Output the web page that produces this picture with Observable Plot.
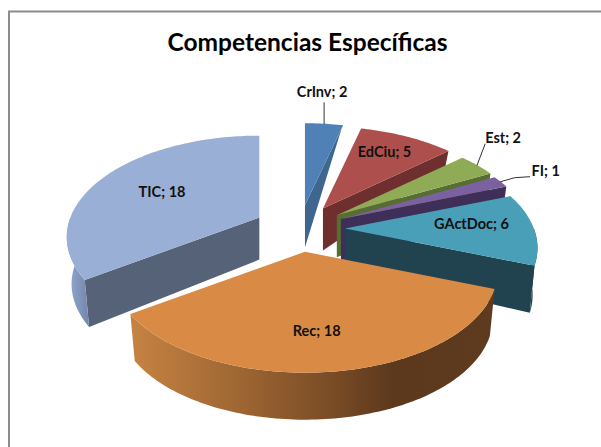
<!DOCTYPE html>
<html>
<head>
<meta charset="utf-8">
<style>html,body{margin:0;padding:0;background:#fff}svg{display:block}</style>
<script src="https://cdn.jsdelivr.net/npm/d3@7"></script>
<script src="https://cdn.jsdelivr.net/npm/@observablehq/plot@0.6"></script>
</head>
<body>
<div id="chart"></div>
<script>
// Data
const categories = ["CrInv", "EdCiu", "Est", "FI", "GActDoc", "Rec", "TIC"];
const values = [2, 5, 2, 1, 6, 18, 18];
const titleText = "Competencias Específicas";

// Styles per slice
const topColors  = ["#4f81b6", "#ad504d", "#90ab56", "#7c61a0", "#4a9fb8", "#d98a45", "#9aafd5"];
const wallColors = ["#3f668f", "#6e2f2e", "#566e31", "#3f2e58", "#21434f", "#6b4221", "#566278"];
const labelInside = [false, true, false, false, true, true, true];
const labelRadius = [0, 0.74, 0, 0, 0.67, 0.71, 0.6];
const labelNudge = [null, [-3, -1], null, null, [0, -4], [-7, 0], [-2, 1]];
const calloutLeader = [[[0, -21]], null, [[8, -21]], [[14, -4], [29, -5]], null, null, null];
const calloutLabel = [[-2, -31], null, [26, -27], [45, -10], null, null, null];

// Perspective pie geometry (screen units of the identity x/y scales)
const W = 601, H = 447;
const cx = 299, cy = 228, A = 189, B = 97.7, K = 0.192, EXPLODE = 0.24;
const apexDepth = 42, rimDepth = 47, converge = 0.025;

const arcs = d3.pie().sort(null).value(d => d)(values);
const mid = a => (a.startAngle + a.endAngle) / 2;
const apexOf = a => [cx + A * EXPLODE * Math.sin(mid(a)), cy - B * EXPLODE * Math.cos(mid(a))];
function rim(apex, t, r = 1) {
  const u = r * Math.sin(t), v = r * Math.cos(t), w = 1 + K * v;
  return [apex[0] + A * u / w, apex[1] - B * v / w];
}
function drop(apex, p, t) {
  const d = rimDepth * Math.min(1, 1 - Math.cos(t));
  return [p[0] - (p[0] - apex[0]) * converge, p[1] + d];
}
function arcPts(apex, t0, t1) {
  const n = Math.max(2, Math.ceil(Math.abs(t1 - t0) / 0.02));
  return d3.range(n + 1).map(i => {
    const t = t0 + (t1 - t0) * i / n;
    return { t, p: rim(apex, t) };
  });
}
const face = (pts, fill) => Plot.line(pts, {
  x: d => d[0], y: d => d[1], fill, stroke: "none", curve: "linear-closed"
});
const apexBase = apex => [apex[0], apex[1] + apexDepth];
function cutFace(apex, t, fill) {
  const p = rim(apex, t);
  return face([apex, apexBase(apex), drop(apex, p, t), p], fill);
}
function rimFace(apex, t0, t1, fill) {
  const a = arcPts(apex, t0, t1);
  const top = a.map(d => d.p);
  const bottom = a.map(d => drop(apex, d.p, d.t)).reverse();
  return face([...top, ...bottom], fill);
}
function topFace(apex, a, fill) {
  return face([apex, ...arcPts(apex, a.startAngle, a.endAngle).map(d => d.p)], fill);
}

// Gradient defs for the shaded rims
const gradients = [
  ["recRim", [[0, "#c68342"], [0.25, "#a56b35"], [0.55, "#7a4c26"], [0.72, "#5c391d"], [1, "#5e3b1e"]]],
  ["ticRim", [[0, "#95aacf"], [1, "#7286ac"]]]
];
const defsMark = () => {
  const defs = d3.create("svg:defs");
  gradients.forEach(([id, stops]) => {
    const g = defs.append("linearGradient").attr("id", id);
    stops.forEach(([o, c]) => g.append("stop").attr("offset", o).attr("stop-color", c));
  });
  return defs.node();
};

// Draw order: far slices first, then TIC, then Rec in front
const marks = [defsMark];
marks.push(Plot.ruleX([8.5], { y1: 11, y2: H, stroke: "#8c8c8c", strokeWidth: 2 }));
marks.push(Plot.ruleY([11], { x1: 8, x2: W, stroke: "#8c8c8c", strokeWidth: 2 }));

[0, 1, 2, 3, 4, 6, 5].forEach(i => {
  const a = arcs[i], apex = apexOf(a);
  if (i === 6) {
    marks.push(cutFace(apex, a.startAngle, wallColors[i]));
    marks.push(rimFace(apex, a.startAngle, 3 * Math.PI / 2, "url(#ticRim)"));
    marks.push(cutFace(apex, a.endAngle % (2 * Math.PI), wallColors[i]));
  } else if (i === 5) {
    marks.push(rimFace(apex, a.startAngle, a.endAngle, "url(#recRim)"));
  } else {
    marks.push(cutFace(apex, a.endAngle, wallColors[i]));
    if (i === 4) marks.push(rimFace(apex, Math.PI / 2, a.endAngle, wallColors[i]));
  }
  marks.push(topFace(apex, a, topColors[i]));
});

// Leader lines and labels
const font = { fontFamily: "Lato, Carlito, sans-serif", fontWeight: 700, fill: "#111" };
const labelSize = 14.5;
arcs.forEach((a, i) => {
  const apex = apexOf(a);
  const text = `${categories[i]}; ${values[i]}`;
  if (labelInside[i]) {
    const p = rim(apex, mid(a), labelRadius[i]);
    const n = labelNudge[i];
    marks.push(Plot.text([text], { x: () => p[0] + n[0], y: () => p[1] + n[1], text: d => d, fontSize: labelSize, ...font }));
  } else {
    const p = rim(apex, mid(a));
    const leader = [p, ...calloutLeader[i].map(o => [p[0] + o[0], p[1] + o[1]])];
    marks.push(Plot.line(leader, { x: d => d[0], y: d => d[1], stroke: "#333", strokeWidth: 1, curve: "linear" }));
    const o = calloutLabel[i];
    marks.push(Plot.text([text], { x: () => p[0] + o[0], y: () => p[1] + o[1], text: d => d, fontSize: labelSize, ...font }));
  }
});

marks.push(Plot.text([titleText], { x: () => 307, y: () => 43, text: d => d, fontSize: 24.5, ...font, fill: "#000" }));

const chart = Plot.plot({
  width: W, height: H,
  margin: 0,
  x: { type: "linear", domain: [0, W], range: [0, W], axis: null },
  y: { type: "linear", domain: [0, H], range: [0, H], axis: null },
  style: { background: "#fff" },
  marks
});
document.getElementById("chart").appendChild(chart);
</script>
</body>
</html>
